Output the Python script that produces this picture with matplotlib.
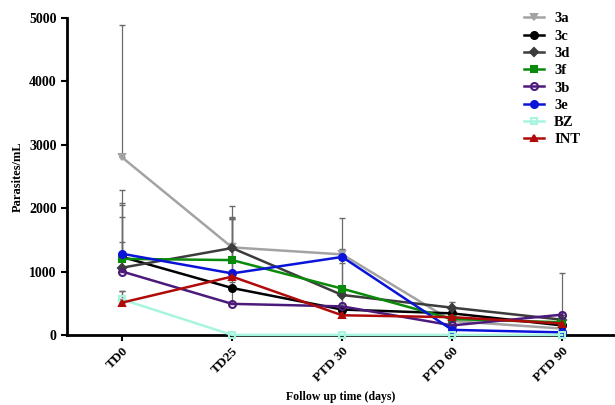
import matplotlib
matplotlib.use("Agg")
import matplotlib.pyplot as plt
from matplotlib.lines import Line2D
import numpy as np

categories = ["TD0", "TD25", "PTD 30", "PTD 60", "PTD 90"]
series_names = ["3a", "3c", "3d", "3f", "3b", "3e", "BZ", "INT"]
v_3a = [2800, 1380, 1270, 220, 100]
v_3c = [1230, 740, 400, 340, 150]
v_3d = [1060, 1370, 630, 430, 240]
v_3f = [1200, 1180, 730, 250, 200]
v_3b = [1000, 490, 450, 150, 320]
v_3e = [1280, 970, 1230, 80, 40]
v_BZ = [560, 0, 0, 0, 0]
v_INT = [510, 920, 310, 280, 180]
# upper error extents (SD)
e_3a = [2090, 450, 570, 80, 60]
e_3c = [1060, 1290, 300, 60, 80]
e_3d = [800, 490, 580, 90, 120]
e_3f = [850, 650, 400, 60, 80]
e_3b = [470, 340, 300, 60, 660]
e_3e = [800, 880, 130, 40, 40]
e_BZ = [130, 0, 0, 0, 0]
e_INT = [180, 530, 200, 60, 60]

values = [v_3a, v_3c, v_3d, v_3f, v_3b, v_3e, v_BZ, v_INT]
errors = [e_3a, e_3c, e_3d, e_3f, e_3b, e_3e, e_BZ, e_INT]
colors = ["#a3a3a3", "#000000", "#3c3c3c", "#0a8a0a", "#4b1a7a", "#0a14d8", "#a8f5df", "#b00a0a"]
markers = ["v", "o", "D", "s", "o", "o", "s", "^"]
fills = [True, True, True, True, False, True, False, True]

plt.rcParams['font.family'] = ['Liberation Serif', 'DejaVu Serif']

fig = plt.figure(figsize=(6.15, 4.05), dpi=100)
ax = fig.add_axes([0.109, 0.173, 0.891, 0.783])
x = np.arange(len(categories))

handles = []
for name, v, e, c, m, f in zip(series_names, values, errors, colors, markers, fills):
    ax.errorbar(x, v, yerr=[np.zeros(len(e)), e], fmt="none", ecolor="#6a6a6a",
                elinewidth=0.9, capsize=2, capthick=1, zorder=2, clip_on=False)
    ms = 5 if m != "D" else 4.5
    ax.plot(x, v, color=c, linewidth=1.8, marker=m, markersize=ms,
            markerfacecolor=c if f else "none", markeredgecolor=c, markeredgewidth=1.5,
            clip_on=False, zorder=3)
    handles.append(Line2D([], [], color=c, linewidth=1.8, marker=m, markersize=ms,
                          markerfacecolor=c if f else "none", markeredgecolor=c,
                          markeredgewidth=1.5, label=name))

ax.set_xlim(-0.5, 4.48)
ax.set_ylim(0, 5000)
ax.set_yticks([0, 1000, 2000, 3000, 4000, 5000])
ax.set_xticks(x)
ax.set_xticklabels(categories, rotation=45, ha="right", rotation_mode="anchor",
                   fontsize=9.5, fontweight="bold")
for lab in ax.get_yticklabels():
    lab.set_fontweight("bold")
    lab.set_fontsize(10)
ax.spines["top"].set_visible(False)
ax.spines["right"].set_visible(False)
ax.spines["left"].set_linewidth(2)
ax.spines["bottom"].set_linewidth(2)
ax.tick_params(axis="both", width=1.5, length=4)
ax.set_ylabel("Parasites/mL", fontsize=9, fontweight="bold", labelpad=4)
ax.set_xlabel("Follow up time (days)", fontsize=8.5, fontweight="bold", labelpad=5)

leg = ax.legend(handles=handles, loc="upper right", bbox_to_anchor=(0.955, 1.05), frameon=False,
                prop={"weight": "bold", "size": 10.5}, handlelength=1.4, handletextpad=0.7,
                labelspacing=0.28, borderaxespad=0.3)

fig.savefig("out.png", dpi=100)
